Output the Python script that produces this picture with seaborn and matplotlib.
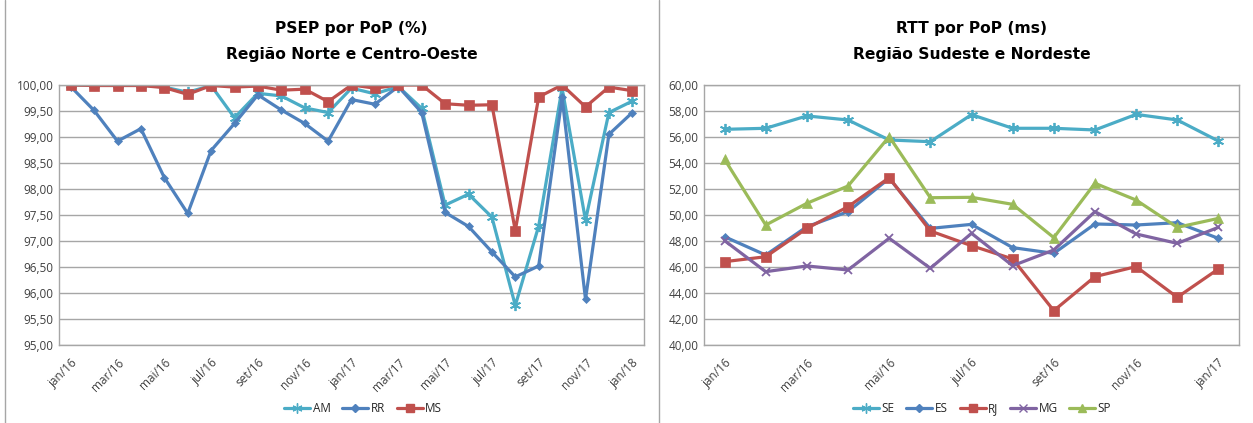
import numpy as np
import pandas as pd
import seaborn as sns
import matplotlib.pyplot as plt
from matplotlib.lines import Line2D
from matplotlib.ticker import FuncFormatter

# left chart: PSEP por PoP (%), jan/16 .. jan/18
meses_esq = ["jan/16", "fev/16", "mar/16", "abr/16", "mai/16", "jun/16", "jul/16", "ago/16",
             "set/16", "out/16", "nov/16", "dez/16", "jan/17", "fev/17", "mar/17", "abr/17",
             "mai/17", "jun/17", "jul/17", "ago/17", "set/17", "out/17", "nov/17", "dez/17", "jan/18"]
am = [100.00, 100.00, 100.00, 100.00, 99.96, 99.86, 99.99, 99.37, 99.84, 99.79, 99.56, 99.47,
      99.94, 99.83, 99.97, 99.55, 97.69, 97.90, 97.46, 95.76, 97.29, 99.94, 97.40, 99.47, 99.69]
rr = [99.97, 99.51, 98.92, 99.16, 98.22, 97.53, 98.74, 99.26, 99.81, 99.52, 99.26, 98.92,
      99.72, 99.63, 99.97, 99.47, 97.55, 97.28, 96.79, 96.31, 96.52, 99.76, 95.88, 99.05, 99.47]
ms = [100.00, 99.99, 99.99, 99.99, 99.95, 99.82, 99.99, 99.96, 99.98, 99.90, 99.92, 99.68,
      100.00, 99.94, 100.00, 100.00, 99.64, 99.61, 99.62, 97.20, 99.77, 100.00, 99.58, 99.96, 99.89]

# right chart: RTT por PoP (ms), jan/16 .. jan/17
meses_dir = meses_esq[:13]
se = [56.59, 56.67, 57.62, 57.31, 55.77, 55.64, 57.72, 56.67, 56.67, 56.54, 57.74, 57.31, 55.69]
es = [48.33, 46.92, 49.10, 50.26, 52.82, 48.97, 49.28, 47.49, 47.05, 49.31, 49.23, 49.41, 48.20]
rj = [46.41, 46.79, 48.97, 50.64, 52.87, 48.77, 47.64, 46.62, 42.64, 45.26, 46.03, 43.67, 45.85]
mg = [48.03, 45.64, 46.08, 45.77, 48.21, 45.90, 48.59, 46.10, 47.31, 50.26, 48.54, 47.82, 49.05]
sp = [54.28, 49.23, 50.90, 52.23, 56.03, 51.33, 51.36, 50.82, 48.26, 52.44, 51.15, 49.05, 49.74]

AQUA, BLUE, RED, PURPLE, GREEN = "#4BACC6", "#4F81BD", "#C0504D", "#8064A2", "#9BBB59"
STAR = (6, 2, 0)  # excel-like asterisk
MARK = {"star": (STAR, 8), "D": ("D", 4.5), "s": ("s", 6.5), "x": ("x", 6), "^": ("^", 6.5)}

sns.set_style("white")
plt.rcParams["font.family"] = ["Open Sans", "DejaVu Sans"]

fig = plt.figure(figsize=(12.53, 4.23), dpi=100)
ax1 = fig.add_axes([59 / 1253, 1 - 345 / 423, (644 - 59) / 1253, 260 / 423])
ax2 = fig.add_axes([704 / 1253, 1 - 345 / 423, (1239 - 704) / 1253, 260 / 423])


def draw(ax, meses, series, ylim, step, title):
    rows = []
    for nome, vals, cor, mk in series:
        rows += [{"mes": i, "valor": v, "serie": nome} for i, v in enumerate(vals)]
    df = pd.DataFrame(rows)
    for nome, _, cor, mk in series:
        m, ms_ = MARK[mk]
        sub = df[df.serie == nome]
        sns.lineplot(data=sub, x="mes", y="valor", ax=ax, color=cor, lw=2.3,
                     marker=m, markersize=ms_, markeredgecolor=cor,
                     markeredgewidth=1.3 if mk in ("star", "x") else 0.5, legend=False)
    ax.set_xlim(-0.5, len(meses) - 0.5)
    ax.set_ylim(*ylim)
    ax.set_yticks(np.arange(ylim[0], ylim[1] + step / 2, step))
    ax.yaxis.set_major_formatter(FuncFormatter(lambda v, p: f"{v:.2f}".replace(".", ",")))
    ax.set_xticks(range(0, len(meses), 2))
    ax.set_xticklabels(meses[::2], rotation=45, ha="right", rotation_mode="anchor")
    ax.tick_params(axis="both", labelsize=8.5, colors="#404040", length=0, pad=4)
    ax.tick_params(axis="x", pad=8)
    ax.grid(axis="y", color="#A6A6A6", lw=1)
    ax.set_axisbelow(True)
    for s in ax.spines.values():
        s.set_color("#A6A6A6")
        s.set_linewidth(1)
    ax.set_xlabel("")
    ax.set_ylabel("")
    ax.set_title(title, fontsize=11.2, fontweight="bold", linespacing=1.85, pad=19,
                 color="black", family=["DejaVu Sans"])
    handles = [Line2D([], [], color=c, lw=2.3, marker=MARK[m][0], markersize=MARK[m][1] * 0.9,
                      markeredgecolor=c) for _, _, c, m in series]
    ax.legend(handles, [n for n, _, _, _ in series], loc="center",
              bbox_to_anchor=(0.52, -0.243), ncol=len(series), frameon=False,
              fontsize=8.5, handlelength=2.2, columnspacing=1.0, handletextpad=0.2)


draw(ax1, meses_esq, [("AM", am, AQUA, "star"), ("RR", rr, BLUE, "D"), ("MS", ms, RED, "s")],
     (95, 100), 0.5, "PSEP por PoP (%)\nRegião Norte e Centro-Oeste")
draw(ax2, meses_dir, [("SE", se, AQUA, "star"), ("ES", es, BLUE, "D"), ("RJ", rj, RED, "s"),
                      ("MG", mg, PURPLE, "x"), ("SP", sp, GREEN, "^")],
     (40, 60), 2, "RTT por PoP (ms)\nRegião Sudeste e Nordeste")

# panel borders
for x in (5 / 1253, 659 / 1253):
    fig.add_artist(Line2D([x, x], [0, 1], color="#A6A6A6", lw=1, transform=fig.transFigure))

fig.savefig("out.png", dpi=100, facecolor="white")
